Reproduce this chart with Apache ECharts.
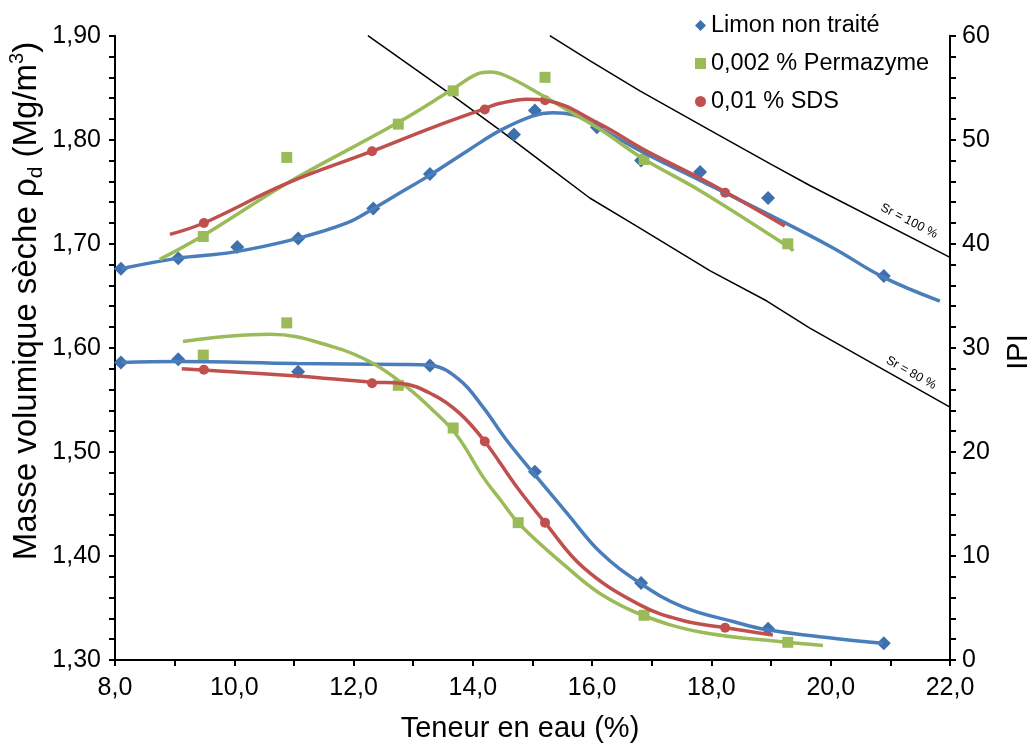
<!DOCTYPE html>
<html>
<head>
<meta charset="utf-8">
<script src="https://cdn.jsdelivr.net/npm/echarts@6/dist/echarts.min.js"></script>
<style>
html,body{margin:0;padding:0;background:#fff;}
#chart{width:1036px;height:744px;}
</style>
</head>
<body>
<div id="chart"></div>
<script>
// ---- Data ----
var seriesNames = ['Limon non traité', '0,002 % Permazyme', '0,01 % SDS'];

// Proctor curves: dry density (left axis)
var blueTopX = [8.10, 9.06, 10.05, 11.07, 12.33, 13.28, 14.69, 15.04, 16.08, 16.82, 17.81, 18.95, 20.89];
var blueTopY = [1.676, 1.686, 1.697, 1.705, 1.734, 1.767, 1.805, 1.828, 1.812, 1.780, 1.769, 1.744, 1.669];
var greenTopX = [9.48, 10.88, 12.75, 13.67, 15.21, 16.87, 19.28];
var greenTopY = [1.707, 1.783, 1.815, 1.847, 1.860, 1.781, 1.700];
var redTopX = [9.49, 12.31, 14.20, 15.21, 18.23];
var redTopY = [1.720, 1.789, 1.829, 1.838, 1.749];

// IPI curves (right axis)
var blueBotX = [8.10, 9.06, 11.07, 13.28, 15.04, 16.82, 18.95, 20.89];
var blueBotY = [28.6, 28.9, 27.7, 28.3, 18.1, 7.4, 3.0, 1.6];
var greenBotX = [9.48, 10.88, 12.75, 13.67, 14.76, 16.87, 19.28];
var greenBotY = [29.3, 32.4, 26.4, 22.3, 13.2, 4.3, 1.7];
var redBotX = [9.49, 12.31, 14.20, 15.21, 18.23];
var redBotY = [27.9, 26.6, 21.0, 13.2, 3.1];

// Fitted trend curves
var blueTopFit = [[8.10,1.676],[9.04,1.686],[9.98,1.692],[11.05,1.705],[11.89,1.720],[12.31,1.733],[12.78,1.749],[13.28,1.766],[13.90,1.789],[14.46,1.809],[15.01,1.823],[15.34,1.826],[15.68,1.824],[16.13,1.811],[16.85,1.788],[17.81,1.761],[18.93,1.729],[20.04,1.696],[20.88,1.668],[21.83,1.645]];
var greenTopFit = [[8.75,1.685],[9.48,1.708],[10.88,1.758],[12.73,1.816],[13.62,1.847],[14.07,1.863],[14.29,1.865],[14.57,1.861],[15.18,1.842],[16.13,1.810],[16.85,1.782],[17.81,1.751],[19.32,1.696],[19.37,1.693]];
var redTopFit = [[8.92,1.709],[9.49,1.720],[10.88,1.758],[12.31,1.789],[13.33,1.812],[14.20,1.830],[14.46,1.835],[14.91,1.839],[15.21,1.838],[16.13,1.815],[16.85,1.791],[17.81,1.763],[18.26,1.749],[19.23,1.717]];
var blueBotFit = [[8.10,28.6],[9.04,28.7],[11.05,28.5],[12.78,28.4],[13.30,28.3],[13.78,26.9],[14.17,24.3],[14.57,21.1],[15.01,18.0],[15.58,14.1],[16.13,10.4],[16.80,7.4],[17.52,5.1],[18.36,3.7],[18.93,2.9],[20.04,2.1],[20.88,1.6]];
var greenBotFit = [[9.14,30.6],[10.60,31.3],[11.66,30.1],[12.33,28.5],[12.90,26.2],[13.33,24.0],[13.73,21.6],[14.17,17.6],[14.46,15.4],[14.79,13.0],[15.58,8.9],[16.13,6.4],[16.85,4.3],[17.81,2.7],[19.27,1.7],[19.87,1.4]];
var redBotFit = [[9.12,28.0],[11.05,27.3],[12.31,26.7],[12.78,26.6],[13.33,25.5],[13.78,23.7],[14.20,21.0],[14.74,16.6],[15.21,13.2],[15.85,8.9],[16.80,5.3],[17.52,3.8],[18.23,3.1],[19.03,2.4]];

// Saturation lines
var sr100 = [[15.29,1.900],[15.96,1.876],[16.80,1.847],[17.98,1.809],[18.98,1.777],[19.65,1.756],[22.0,1.687]];
var sr80 = [[12.24,1.900],[13.62,1.844],[14.46,1.809],[15.29,1.773],[15.96,1.744],[16.69,1.719],[17.98,1.674],[18.93,1.645],[19.65,1.619],[22.0,1.543]];
var srLabels = ['Sr = 100 %', 'Sr = 80 %'];

var xTitle = 'Teneur en eau (%)';
var rightTitle = 'IPI';

// ---- Build ----
function pairs(xs, ys){ return xs.map(function(x,i){ return [x, ys[i]]; }); }
var colors = ['#4A7EBB', '#9BBB59', '#C0504D'];
var markerColors = ['#3F70AE', '#9BBB59', '#C0504D'];
var symbols = ['diamond', 'rect', 'circle'];
var symbolSizes = [14, 11, 10];
var FONT = 'Liberation Sans, Arial, sans-serif';

function scatter(idx, data, yAxisIndex){
  return {
    type: 'scatter', name: seriesNames[idx], xAxisIndex: 0, yAxisIndex: yAxisIndex,
    data: data, symbol: symbols[idx], symbolSize: symbolSizes[idx],
    itemStyle: { color: markerColors[idx], opacity: 1 }, z: 3, silent: true
  };
}
function fit(idx, data, yAxisIndex){
  return {
    type: 'line', xAxisIndex: 0, yAxisIndex: yAxisIndex, data: data,
    smooth: 0.4, showSymbol: false, symbol: 'none',
    lineStyle: { color: colors[idx], width: 3.5 }, z: 4, silent: true
  };
}
function srLine(data){
  return {
    type: 'line', xAxisIndex: 0, yAxisIndex: 0, data: data, showSymbol: false, symbol: 'none',
    lineStyle: { color: '#000', width: 1.5 }, z: 2, silent: true, clip: true
  };
}

var chart = echarts.init(document.getElementById('chart'));
var option = {
  animation: false,
  backgroundColor: '#fff',
  grid: { left: 115, right: 86, top: 35.7, bottom: 84, containLabel: false },
  legend: {
    orient: 'vertical', left: 690, top: 8,
    itemWidth: 11, itemHeight: 11, itemGap: 13,
    textStyle: { fontFamily: FONT, fontSize: 23.5, color: '#000', lineHeight: 25 },
    data: [
      { name: seriesNames[0], icon: 'diamond' },
      { name: seriesNames[1], icon: 'rect' },
      { name: seriesNames[2], icon: 'circle' }
    ]
  },
  xAxis: {
    type: 'value', min: 8, max: 22, interval: 2,
    axisLine: { show: true, lineStyle: { color: '#000', width: 2 } },
    axisTick: { show: true, inside: false, length: 6, lineStyle: { color: '#000', width: 2 } },
    minorTick: { show: true, splitNumber: 2, length: 6, lineStyle: { color: '#000', width: 2 } },
    splitLine: { show: false },
    axisLabel: { fontFamily: FONT, fontSize: 25, color: '#000', margin: 16,
      formatter: function(v){ return v.toFixed(1).replace('.', ','); } }
  },
  yAxis: [
    {
      type: 'value', min: 1.3, max: 1.9, interval: 0.1, position: 'left',
      axisLine: { show: true, onZero: false, lineStyle: { color: '#000', width: 2 } },
      axisTick: { show: true, inside: false, length: 6, lineStyle: { color: '#000', width: 2 } },
      minorTick: { show: true, splitNumber: 5, length: 6, lineStyle: { color: '#000', width: 2 } },
      splitLine: { show: false },
      axisLabel: { fontFamily: FONT, fontSize: 25, color: '#000', margin: 14,
        formatter: function(v){ return v.toFixed(2).replace('.', ','); } }
    },
    {
      type: 'value', min: 0, max: 60, interval: 10, position: 'right',
      axisLine: { show: true, onZero: false, lineStyle: { color: '#000', width: 2 } },
      axisTick: { show: true, inside: false, length: 6, lineStyle: { color: '#000', width: 2 } },
      minorTick: { show: true, splitNumber: 5, length: 6, lineStyle: { color: '#000', width: 2 } },
      splitLine: { show: false },
      axisLabel: { fontFamily: FONT, fontSize: 25, color: '#000', margin: 12 }
    }
  ],
  graphic: [
    { type: 'text', x: 520, y: 729, silent: true,
      style: { text: xTitle, font: '29px ' + FONT, fill: '#000', textAlign: 'center', textVerticalAlign: 'middle' } },
    { type: 'text', x: 1019, y: 352, rotation: Math.PI / 2, silent: true,
      style: { text: rightTitle, font: '29px ' + FONT, fill: '#000', textAlign: 'center', textVerticalAlign: 'middle' } },
    { type: 'text', x: 27, y: 301, rotation: Math.PI / 2, silent: true,
      style: {
        text: '{a|Masse volumique sèche ρ}{s|d}{a| (Mg/m}{p|3}{a|)}',
        textAlign: 'center', textVerticalAlign: 'middle', fill: '#000',
        rich: {
          a: { fontFamily: FONT, fontSize: 33, lineHeight: 40, fill: '#000' },
          s: { fontFamily: FONT, fontSize: 21, lineHeight: 21, verticalAlign: 'bottom', fill: '#000' },
          p: { fontFamily: FONT, fontSize: 20, lineHeight: 20, verticalAlign: 'top', fill: '#000' }
        }
      } },
    { type: 'text', x: 909, y: 221, rotation: -0.47, silent: true,
      style: { text: srLabels[0], font: '12.5px ' + FONT, fill: '#000', textAlign: 'center', textVerticalAlign: 'middle' } },
    { type: 'text', x: 911, y: 373, rotation: -0.51, silent: true,
      style: { text: srLabels[1], font: '12.5px ' + FONT, fill: '#000', textAlign: 'center', textVerticalAlign: 'middle' } }
  ],
  series: [
    srLine(sr100), srLine(sr80),
    scatter(0, pairs(blueTopX, blueTopY), 0),
    scatter(1, pairs(greenTopX, greenTopY), 0),
    scatter(2, pairs(redTopX, redTopY), 0),
    scatter(0, pairs(blueBotX, blueBotY), 1),
    scatter(1, pairs(greenBotX, greenBotY), 1),
    scatter(2, pairs(redBotX, redBotY), 1),
    fit(0, blueTopFit, 0), fit(1, greenTopFit, 0), fit(2, redTopFit, 0),
    fit(0, blueBotFit, 1), fit(1, greenBotFit, 1), fit(2, redBotFit, 1)
  ]
};
chart.setOption(option);
</script>
</body>
</html>
